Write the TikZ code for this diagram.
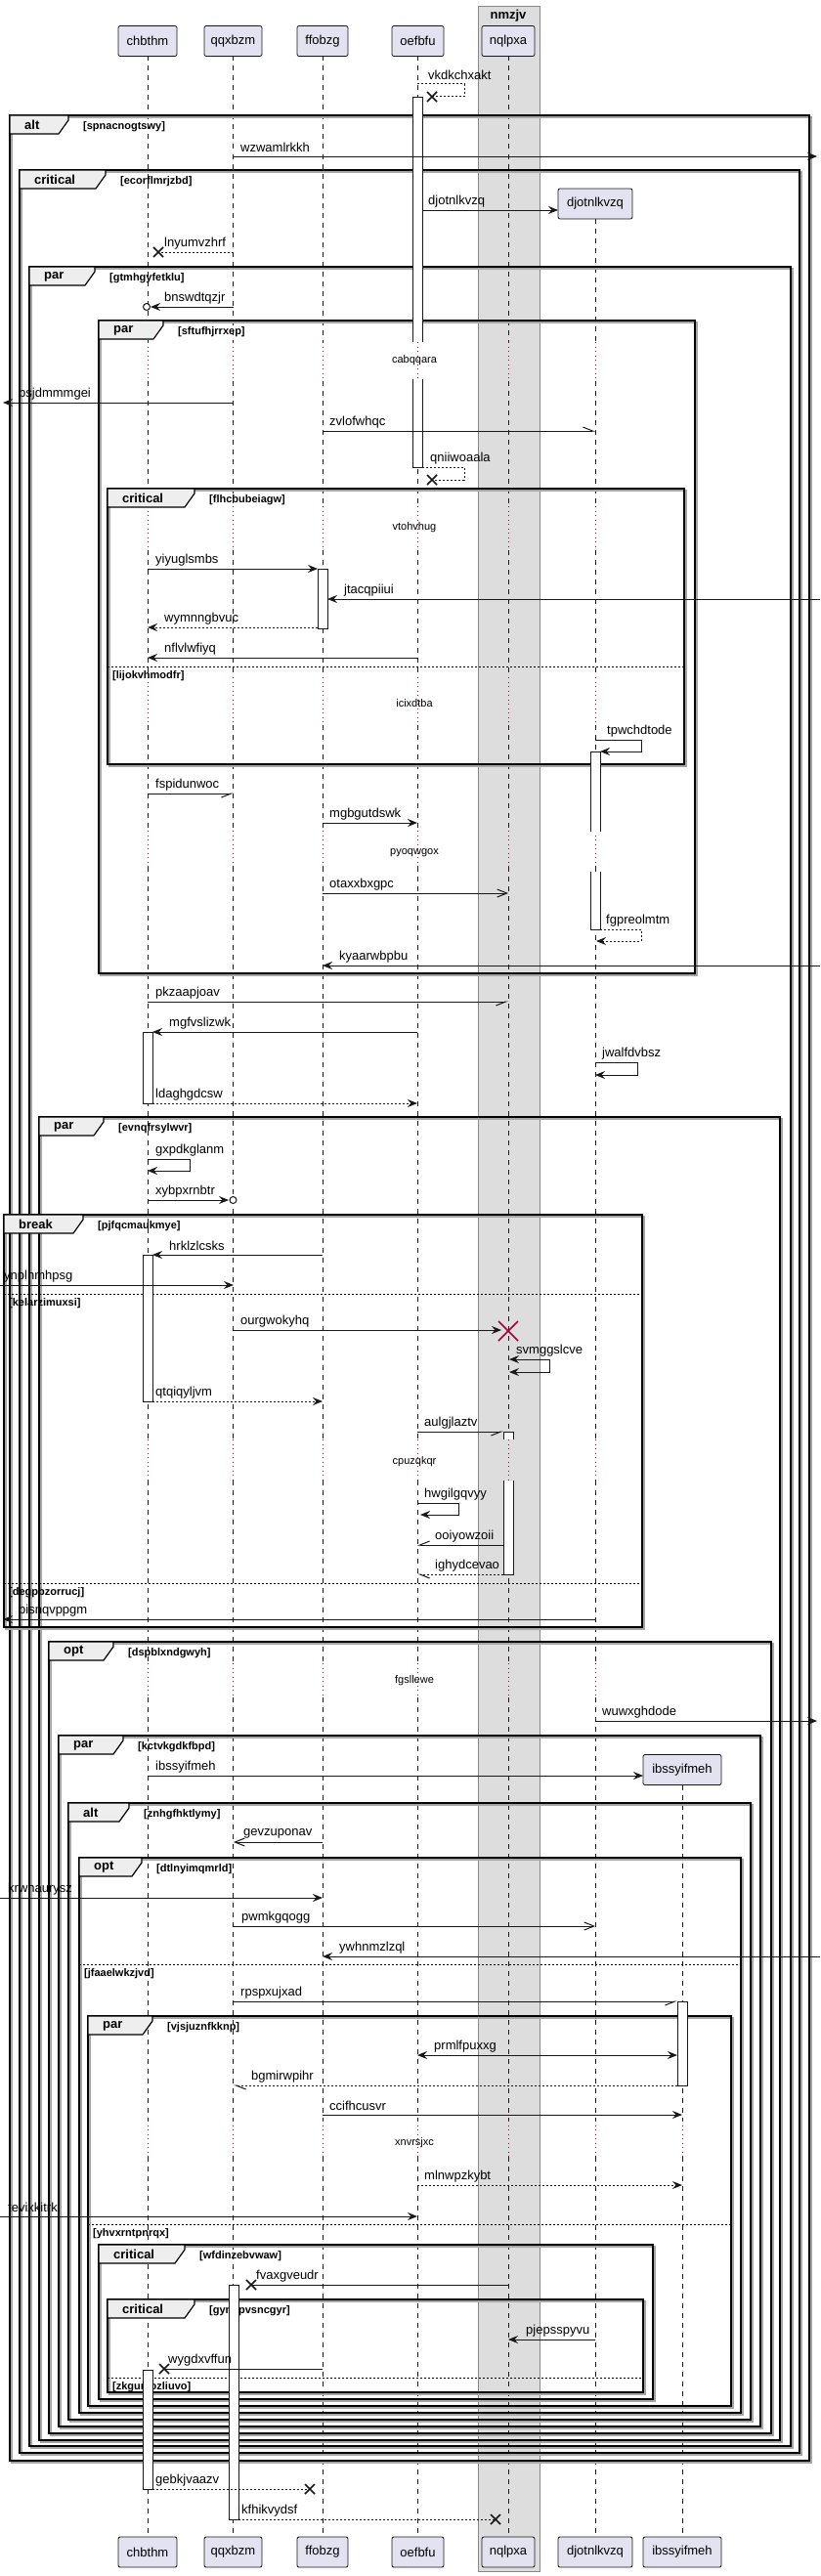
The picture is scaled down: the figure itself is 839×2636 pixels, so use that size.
\documentclass[tikz,border=0pt]{standalone}
\usepackage{fontspec}
\setmainfont{Liberation Sans}
\usetikzlibrary{arrows.meta}
\definecolor{partfill}{HTML}{E2E2F0}
\definecolor{partline}{HTML}{181818}
\definecolor{grpfill}{HTML}{DDDDDD}
\definecolor{grpline}{HTML}{888888}
\definecolor{delayc}{HTML}{A80036}
\definecolor{tabfill}{HTML}{EEEEEE}
\newcommand\mf{\fontsize{13}{15}\selectfont}
\newcommand\cf{\fontsize{11}{13}\selectfont\bfseries}
\newcommand\df{\fontsize{11}{13}\selectfont}
\tikzset{
 ll/.style={draw=partline, line width=0.5pt, dash pattern=on 5pt off 5pt},
 dly/.style={draw=delayc, line width=0.8pt, dash pattern=on 1pt off 3.5pt},
 ml/.style={draw=partline, line width=1pt},
 rt/.style={dash pattern=on 2pt off 2pt},
 fa/.style={-{Stealth[length=10pt,width=8pt,inset=3.5pt]}},
 fab/.style={{Stealth[length=10pt,width=8pt,inset=3.5pt]}-{Stealth[length=10pt,width=8pt,inset=3.5pt]}},
 oa/.style={-{Straight Barb[length=10pt,width=8pt]}},
 halfL/.style={-{Straight Barb[left,length=10pt,width=8pt]}},
 halfR/.style={-{Straight Barb[right,length=10pt,width=8pt]}},
 lbl/.style={anchor=west, inner sep=0pt, font=\mf},
 part/.style={draw=partline, fill=partfill, line width=0.8pt, rounded corners=2pt, minimum height=31pt, inner sep=0pt, font=\mf},
 act/.style={draw=partline, fill=white, line width=0.8pt},
 frm/.style={draw=black, line width=1.5pt},
 frmshadow/.style={draw=black!35, line width=1.5pt},
 tab/.style={draw=black, fill=tabfill, line width=1.2pt},
}
\newcommand\Msg[6]{\draw[ml,#1] (#2,#4) coordinate (ms) -- (#3,#4) coordinate (me); \node[lbl] at (#5,#4-9) {#6};}
\newcommand\SelfM[8]{\draw[ml,#1] (#2,#4) coordinate (ss) -- (#3,#4) -- (#3,#5) -- (#6,#5) coordinate (se); \node[lbl] at (#7,#4-9) {#8};}
\newcommand\Xm[2]{\draw[line width=1.5pt, partline] (#1-5,#2-5) -- (#1+5,#2+5) (#1-5,#2+5) -- (#1+5,#2-5);}
\newcommand\Delay[2]{\node[font=\df, inner sep=0pt] at (424,#1) {#2};}
\newcommand\Frame[7]{%
 \draw[frmshadow] (#1+2,#2+2) rectangle (#3+2,#4+2);
 \draw[frm] (#1,#2) rectangle (#3,#4);
 \draw[tab] (#1,#2) -- (#5,#2) -- (#5,#2+5) -- (#5-10,#2+19) -- (#1,#2+19) -- cycle;
 \node[anchor=west, inner sep=0pt, font=\mf\bfseries] at (#1+15,#2+10) {#6};
 \node[anchor=west, inner sep=0pt, font=\cf] at (#5+15,#2+12) {[#7]};}
\newcommand\Else[4]{%
 \draw[line width=1pt, dash pattern=on 2pt off 2pt] (#1,#3) -- (#2,#3);
 \node[anchor=west, inner sep=0pt, font=\cf] at (#1+5,#3+10) {[#4]};}
\newcommand\ActTop[4]{\fill[white] (#1,#2) rectangle (#3,#4); \draw[partline, line width=0.8pt] (#1,#4) -- (#1,#2) -- (#3,#2) -- (#3,#4);}
\newcommand\ActBot[4]{\fill[white] (#1,#2) rectangle (#3,#4); \draw[partline, line width=0.8pt] (#1,#2) -- (#1,#4) -- (#3,#4) -- (#3,#2);}
\begin{document}
\begin{tikzpicture}[x=1pt,y=-1pt]
\useasboundingbox (0,0) rectangle (839,2636);
\fill[white] (0,0) rectangle (839,2636);
% group box
\draw[fill=grpfill, draw=grpline, line width=0.8pt] (489,6) rectangle (552,2631);
\node[font=\mf\bfseries, inner sep=0pt] (grp) at (520,16) {nmzjv};
% participants
\node[part, minimum width=60pt] (pA) at (151,42) {chbthm};
\node[part, minimum width=59pt] (pB) at (238.5,42) {qqxbzm};
\node[part, minimum width=52pt] (pC) at (330,42) {ffobzg};
\node[part, minimum width=53pt] (pD) at (427.5,42) {oefbfu};
\node[part, minimum width=54pt] (pE) at (520,42) {nqlpxa};
\node[part, minimum width=76pt] (pF) at (609,208.5) {djotnlkvzq};
\node[part, minimum width=80pt] (pG) at (698,1811) {ibssyifmeh};
\node[part, minimum width=60pt] (qA) at (151,2611.5) {chbthm};
\node[part, minimum width=59pt] (qB) at (238.5,2611.5) {qqxbzm};
\node[part, minimum width=52pt] (qC) at (330,2611.5) {ffobzg};
\node[part, minimum width=53pt] (qD) at (427.5,2611.5) {oefbfu};
\node[part, minimum width=54pt] (qE) at (520,2611.5) {nqlpxa};
\node[part, minimum width=76pt] (qF) at (609,2611.5) {djotnlkvzq};
\node[part, minimum width=80pt] (qG) at (698,2611.5) {ibssyifmeh};
% lifelines
\foreach \n in {pA,pB,pC,pD,pE}{
 \foreach \a/\b in {57.5/350,390/518,563/693,742/850,887/1473,1515/1702,1737/2170,2207/2596}
  \draw[ll] (\n |- 0,\a) -- (\n |- 0,\b);}
\foreach \a/\b in {224/350,390/518,563/693,742/850,887/1473,1515/1702,1737/2170,2207/2596}
  \draw[ll] (pF |- 0,\a) -- (pF |- 0,\b);
\foreach \a/\b in {1826.5/2170,2207/2596}
  \draw[ll] (pG |- 0,\a) -- (pG |- 0,\b);
\foreach \n in {pA,pB,pC,pD,pE,pF}{
 \foreach \a/\b in {350/390,518/563,693/742,850/887,1473/1515,1702/1737,2170/2207}
  \draw[dly] (\n |- 0,\a) -- (\n |- 0,\b);}
\draw[dly] (pG |- 0,2170) -- (pG |- 0,2207);
% frames
\Frame{10}{118}{828}{2518}{70}{alt}{spnacnogtswy}
\Frame{20}{174}{818}{2510}{108}{critical}{ecorflmrjzbd}
\Frame{30}{273}{809}{2503}{97}{par}{gtmhgyfetklu}
\Frame{101}{328}{711}{996}{167}{par}{sftufhjrrxep}
\Frame{110}{500}{700}{782}{199}{critical}{flhcbubeiagw}
\Else{110}{700}{682}{lijokvhmodfr}
\Frame{40}{1143}{798}{2497}{106}{par}{evnqfrsylwvr}
\Frame{4}{1243}{657}{1665}{85}{break}{pjfqcmaukmye}
\Else{4}{657}{1324}{kelarzimuxsi}
\Else{4}{657}{1620}{degpbzorrucj}
\Frame{50}{1680}{789}{2490}{116}{opt}{dspblxndgwyh}
\Frame{60}{1776}{778}{2483}{126}{par}{kctvkgdkfbpd}
\Frame{70}{1845}{768}{2476}{132}{alt}{znhgfhktlymy}
\Frame{81}{1901}{758}{2469}{145}{opt}{dtlnyimqmrld}
\Else{81}{758}{2010}{jfaaelwkzjvd}
\Frame{90}{2063}{748}{2462}{156}{par}{vjsjuznfkknp}
\Else{90}{748}{2276}{yhvxrntpnrqx}
\Frame{101}{2297}{668}{2455}{189}{critical}{wfdinzebvwaw}
\Frame{110}{2353}{658}{2448}{199}{critical}{gyngpvsncgyr}
\Else{110}{658}{2433}{zkgumozliuvo}
% activations
\ActTop{422}{99}{432}{350}
\ActBot{422}{388}{432}{478}
\draw[act] (325,582) rectangle (335,643);
\ActTop{604}{769}{614}{851}
\ActBot{604}{892}{614}{951}
\draw[act] (146,1056) rectangle (156,1129);
\draw[act] (146,1284) rectangle (156,1434);
\ActTop{515}{1465}{525}{1473}
\ActBot{515}{1515}{525}{1611}
\draw[act] (693,2048) rectangle (703,2134);
\draw[act] (234,2338) rectangle (244,2578);
\draw[act] (146,2425) rectangle (156,2547);
% messages
\SelfM{rt}{427}{475}{86}{99}{442}{438}{vkdkchxakt} \Xm{442}{99}
\Msg{fa}{239}{836}{160}{246}{wzwamlrkkh}
\Msg{fa}{432}{571}{215}{438}{djotnlkvzq}
\Msg{rt}{239}{162}{258}{168}{lnyumvzhrf} \Xm{162}{258}
\Msg{fa}{239}{154}{314}{168}{bnswdtqzjr}
\draw[partline, line width=1pt, fill=white] (150,314) circle (3.5);
\Delay{369}{cabqqara}
\Msg{fa}{239}{3}{412}{19}{bsjdmmmgei}
\Msg{halfL}{330}{609}{441}{337}{zvlofwhqc}
\SelfM{rt}{432}{475}{478}{491}{442}{440}{qniiwoaala} \Xm{442}{491}
\Delay{540}{vtohvhug}
\Msg{fa}{151}{325}{582}{159}{yiyuglsmbs}
\Msg{fa}{839}{335}{613}{352}{jtacqpiiui}
\Msg{rt,fa}{325}{151}{642}{168}{wymnngbvuc}
\Msg{fa}{427}{151}{673}{168}{nflvlwfiyq}
\Delay{720}{icixdtba}
\SelfM{fa}{609}{656}{757}{769}{614}{621}{tpwchdtode}
\Msg{halfR}{151}{239}{812}{159}{fspidunwoc}
\Msg{fa}{330}{427}{842}{337}{mgbgutdswk}
\Delay{873}{pyoqwgox}
\Msg{oa}{330}{520}{914}{337}{otaxxbxgpc}
\SelfM{rt,fa}{614}{656}{951}{963}{610}{620}{fgpreolmtm}
\Msg{fa}{839}{330}{988}{347}{kyaarwbpbu}
\Msg{halfR}{151}{520}{1025}{159}{pkzaapjoav}
\Msg{fa}{427}{156}{1056}{173}{mgfvslizwk}
\SelfM{fa}{609}{652}{1087}{1100}{609}{616}{jwalfdvbsz}
\Msg{rt,fa}{156}{427}{1129}{159}{ldaghgdcsw}
\SelfM{fa}{151}{194}{1186}{1198}{151}{159}{gxpdkglanm}
\Msg{fa}{151}{234}{1228}{159}{xybpxrnbtr}
\draw[partline, line width=1pt, fill=white] (238.5,1228) circle (3.5);
\Msg{fa}{330}{156}{1284}{173}{hrklzlcsks}
\Msg{fa}{0}{239}{1315}{4}{ynplhmhpsg}
\Msg{fa}{239}{513}{1361}{246}{ourgwokyhq}
\draw[delayc, line width=1.5pt] (510,1352) -- (530,1372) (510,1372) -- (530,1352);
\SelfM{fab}{521}{562}{1391}{1404}{521}{528}{svmggslcve}
\Msg{rt,fa}{156}{330}{1434}{159}{qtqiqyljvm}
\Msg{halfR}{427}{515}{1465}{434}{aulgjlaztv}
\Delay{1496}{cpuzqkqr}
\SelfM{fa}{427}{469}{1538}{1550}{430}{434}{hwgilgqvyy}
\Msg{halfR}{515}{427}{1581}{445}{ooiyowzoii}
\Msg{rt,halfL}{515}{427}{1611}{445}{ighydcevao}
\Msg{fa}{609}{3}{1657}{19}{bisnqvppgm}
\Delay{1720}{fgsllewe}
\Msg{fa}{609}{836}{1761}{616}{wuwxghdode}
\Msg{fa}{151}{658}{1817}{159}{ibssyifmeh}
\Msg{oa}{330}{239}{1885}{249}{gevzuponav}
\Msg{fa}{0}{330}{1942}{8}{krwhaurysz}
\Msg{oa}{239}{609}{1971}{247}{pwmkgqogg}
\Msg{fa}{839}{330}{2002}{347}{ywhnmzlzql}
\Msg{halfR}{239}{693}{2048}{246}{rpspxujxad}
\Msg{fab}{427}{693}{2103}{444}{prmlfpuxxg}
\Msg{rt,halfL}{693}{239}{2134}{257}{bgmirwpihr}
\Msg{fa}{330}{698}{2164}{337}{ccifhcusvr}
\Delay{2193}{xnvrsjxc}
\Msg{rt,fa}{427}{698}{2236}{434}{mlnwpzkybt}
\Msg{fa}{0}{427}{2268}{8}{tevixkitrk}
\Msg{}{520}{257}{2338}{262}{fvaxgveudr} \Xm{257}{2338}
\Msg{fa}{609}{520}{2394}{538}{pjepsspyvu}
\Msg{}{330}{168}{2424}{172}{wygdxvffun} \Xm{168}{2424}
\Msg{rt}{156}{317}{2547}{159}{gebkjvaazv} \Xm{317}{2547}
\Msg{rt}{244}{507}{2578}{247}{kfhikvydsf} \Xm{507}{2578}
\end{tikzpicture}
\end{document}
